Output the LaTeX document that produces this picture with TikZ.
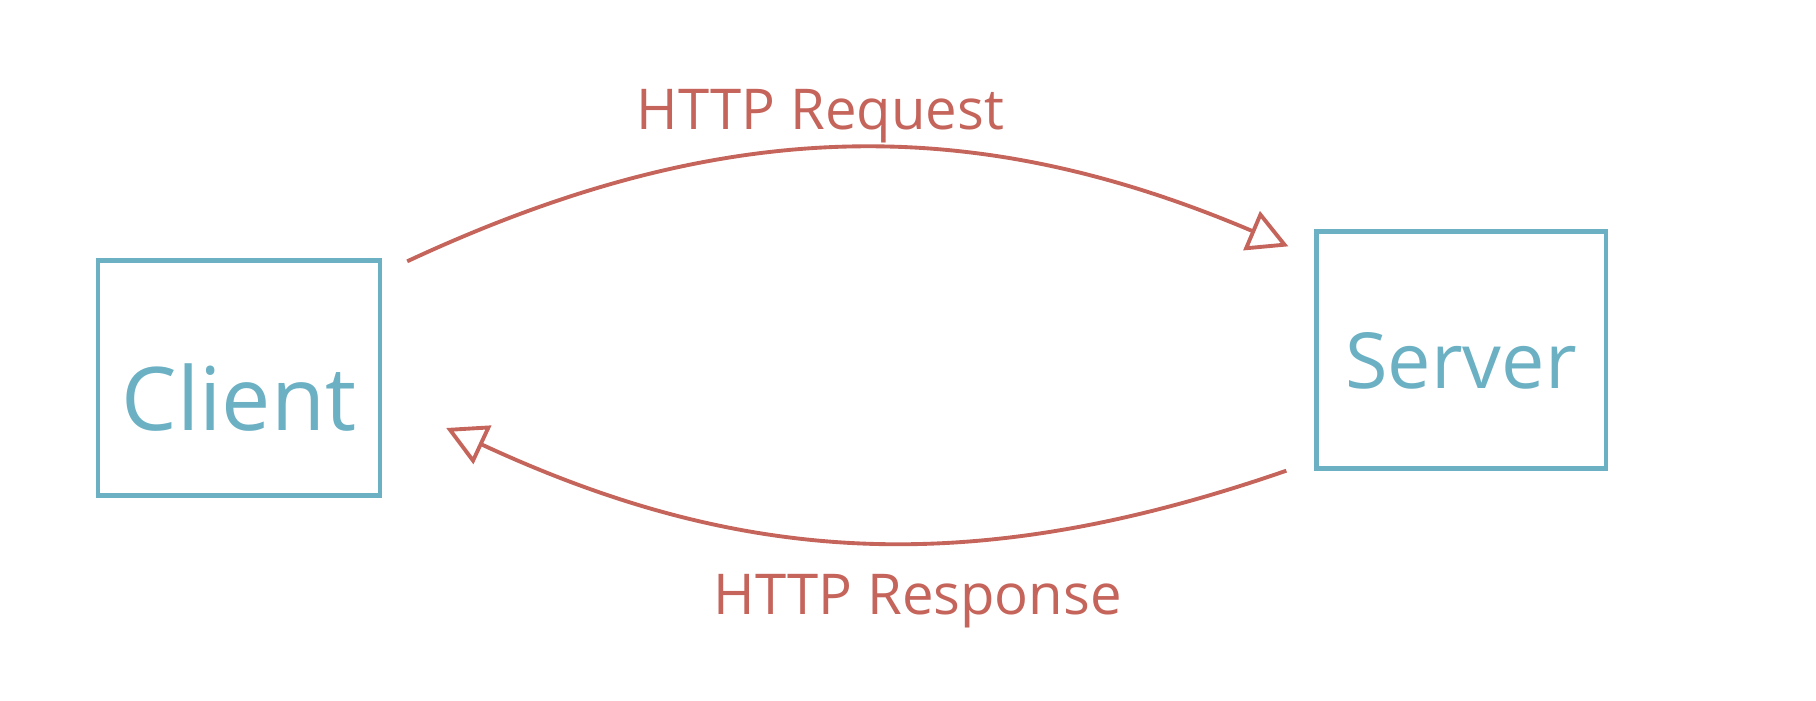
\documentclass[tikz,border=0pt]{standalone}
\usepackage{fontspec}
\setmainfont{Open Sans}
\usetikzlibrary{arrows.meta,positioning}
\definecolor{pen blue}{HTML}{6BB0C3}
\definecolor{pen red}{HTML}{C5645A}
\tikzset{
  box/.style={rectangle, draw=pen blue, line width=1.2pt, text=pen blue, minimum width=2.82cm, minimum height=2.35cm, font=\fontsize{25}{30}\selectfont},
  connect/.style={-{Triangle[open, length=0.4cm, width=0.42cm]}, draw=pen red, line width=1.1pt},
  msg/.style={text=pen red, font=\fontsize{16}{20}\selectfont}
}

\begin{document}
\begin{tikzpicture}[x=0.01cm, y=-0.01cm]
	  \useasboundingbox (0,0) rectangle (1816,700);

	  % Client and server
	  \node[box] (client) at (239,378) {\raisebox{-15pt}[0pt][0pt]{Client}};
	  \node[box, minimum width=2.89cm, minimum height=2.37cm, font=\fontsize{22}{26}\selectfont]
	    (server) at (1461,350) {\raisebox{-11pt}[0pt][0pt]{Server}};

	  % Request on top, response below
	  \draw[connect] ([shift={(25,3)}]client.north east) to[bend left=24]
	    node[msg, above=-2pt, pos=0.47] (req) {HTTP Request} ([shift={(-26,17)}]server.north west);
	  \draw[connect] ([shift={(-28,0)}]server.south west) to[bend left=22]
	    node[msg, below=5pt, pos=0.43] (resp) {HTTP Response} ([shift={(64,50)}]client.east);

\end{tikzpicture}
\end{document}
